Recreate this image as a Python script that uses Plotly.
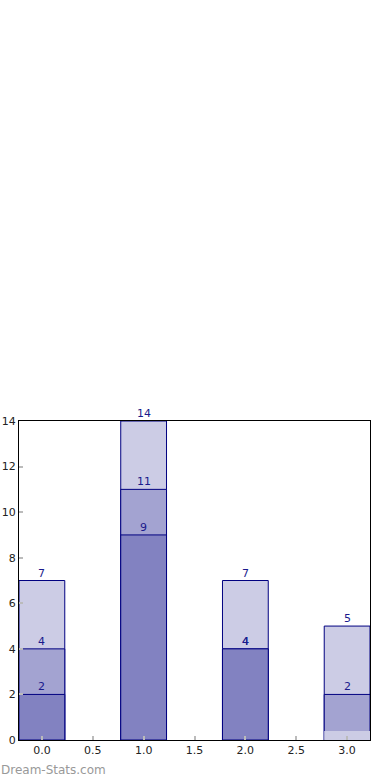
import plotly.graph_objects as go

categories = [0, 1, 2, 3]
top_values = [7, 14, 7, 5]
mid_values = [4, 11, 4, 2]
low_values = [2, 9, 4, 0.4]
low_labels = ["2", "9", "4", ""]
x_ticks = [0.0, 0.5, 1.0, 1.5, 2.0, 2.5, 3.0]
y_ticks = [0, 2, 4, 6, 8, 10, 12, 14]

LIGHT = "#ccccE5"
MID = "#a3a3d1"
DARK = "#8282c1"
EDGE = "#000080"
TXT = "#1a1a8c"

fig = go.Figure()
fig.add_trace(go.Bar(x=categories, y=top_values, width=0.45,
                     marker=dict(color=LIGHT, line=dict(color=EDGE, width=1))))
fig.add_trace(go.Bar(x=categories, y=mid_values, width=0.45,
                     marker=dict(color=MID, line=dict(color=EDGE, width=1))))
low_colors = [DARK if lab else LIGHT for lab in low_labels]
low_lw = [1 if lab else 0 for lab in low_labels]
fig.add_trace(go.Bar(x=categories, y=low_values, width=0.45,
                     marker=dict(color=low_colors, line=dict(color=EDGE, width=low_lw))))

annotations = []
for series, labels in [(top_values, [str(v) for v in top_values]),
                       (mid_values, [str(v) for v in mid_values]),
                       (low_values, low_labels)]:
    for xc, v, lab in zip(categories, series, labels):
        if lab:
            annotations.append(dict(x=xc, y=v, text=lab, showarrow=False,
                                    yanchor="bottom", yshift=-1,
                                    font=dict(family="DejaVu Sans", size=11, color=TXT)))
annotations.append(dict(xref="paper", yref="paper", x=-0.057, y=-0.094,
                        xanchor="left", yanchor="middle", showarrow=False,
                        text="Dream-Stats.com",
                        font=dict(family="DejaVu Sans", size=12, color="#999999")))

fig.update_layout(
    width=390, height=780,
    margin=dict(l=19, r=20, t=421, b=40, autoexpand=False),
    barmode="overlay",
    showlegend=False,
    plot_bgcolor="white", paper_bgcolor="white",
    annotations=annotations,
    font=dict(family="DejaVu Sans", size=11, color="#222222"),
)
fig.update_xaxes(range=[-0.225, 3.225], tickvals=x_ticks,
                 ticktext=[f"{t:.1f}" for t in x_ticks],
                 showgrid=False, zeroline=False, automargin=False,
                 showline=True, linecolor="black", linewidth=1, mirror=True,
                 ticks="inside", ticklen=4, tickcolor="#bbbbbb", tickwidth=2)
fig.update_yaxes(range=[0, 14], tickvals=y_ticks,
                 showgrid=False, zeroline=False, automargin=False,
                 showline=True, linecolor="black", linewidth=1, mirror=True,
                 ticks="inside", ticklen=4, tickcolor="#bbbbbb", tickwidth=2,
                 ticklabelstandoff=0)
fig.write_html("out.html", config={"displayModeBar": False},
               post_script="document.body.style.margin='0';document.body.style.overflow='hidden';")
